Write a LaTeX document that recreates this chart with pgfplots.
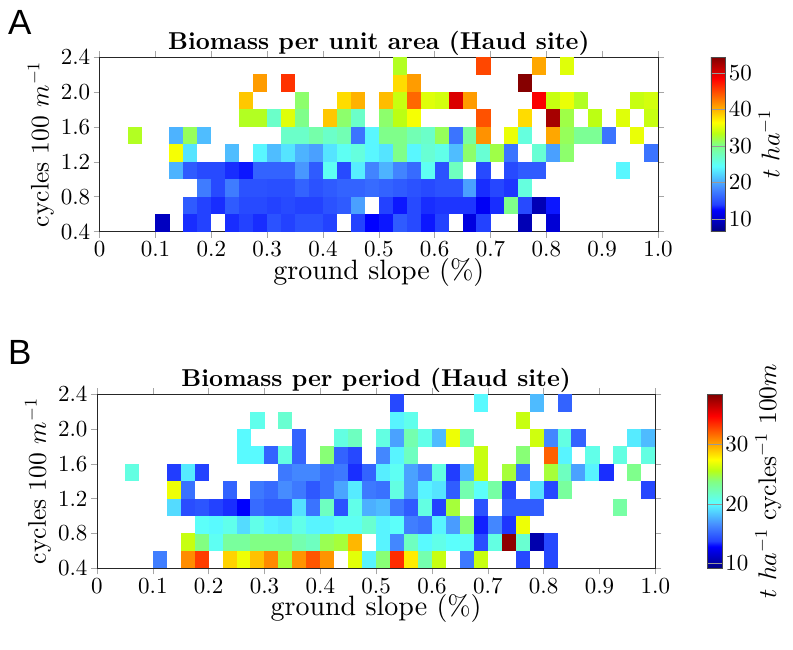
\documentclass[border=0pt]{standalone}
\usepackage{fontspec}
\setmainfont{lmroman10-regular}[Extension=.otf,BoldFont=lmroman10-bold,ItalicFont=lmroman10-italic]
\usepackage{pgfplots}
\usepackage{pgfplotstable}
\pgfplotsset{compat=1.18}
\newfontfamily\hv{Liberation Sans}
\DeclareFontShape{OT1}{cmr}{m}{n}{<->cmr10}{}
\DeclareFontShape{OML}{cmm}{m}{it}{<->cmmi10}{}
\DeclareFontShape{OMS}{cmsy}{m}{n}{<->cmsy10}{}
\pgfdeclareplotmark{cell}{\pgfpathrectangle{\pgfpoint{-7.05pt}{-8.8pt}}{\pgfpoint{14.1pt}{17.6pt}}\pgfusepathqfill}
\pgfplotsset{
 colormap={refjet}{rgb255(0pt)=(0,0,128); rgb255(4pt)=(0,0,255); rgb255(5pt)=(35,65,255); rgb255(8pt)=(70,140,255); rgb255(12pt)=(90,255,255); rgb255(16pt)=(130,255,130); rgb255(18pt)=(185,255,20); rgb255(20pt)=(255,255,0); rgb255(28pt)=(255,0,0); rgb255(32pt)=(128,0,0)},
 cellaxis/.style={
  scale only axis, width=558.3pt,
  xmin=0, xmax=1, ymin=0.4, ymax=2.4,
  xtick={0,0.1,...,1.0}, ytick={0.4,0.8,...,2.4},
  xticklabels={0,0.1,0.2,0.3,0.4,0.5,0.6,0.7,0.8,0.9,1.0},
  yticklabel style={/pgf/number format/fixed,/pgf/number format/precision=1,/pgf/number format/fixed zerofill},
  tick align=outside, tick pos=both, major tick length=6pt,
  every tick/.style={gray!70,line width=0.6pt},
  axis line style={black!85,line width=0.9pt},
  ticklabel style={font=\fontsize{23}{26}\selectfont},
  xlabel style={font=\fontsize{28}{30}\selectfont,yshift=6pt},
  ylabel style={font=\fontsize{25.5}{30}\selectfont},
  title style={font=\fontsize{24.4}{26}\selectfont\bfseries, yshift=-8pt},
  xlabel={ground slope (\%)}, ylabel={cycles 100 $m^{-1}$},
  colormap name=refjet, colorbar,
  axis on top=false,
 },
 cbar/.style={
  at={(parent axis.north east)}, anchor=north west, width=14.4pt,
  yticklabel pos=right, tick align=inside, major tick length=14.4pt,
  every tick/.style={black!40,line width=0.4pt},
  axis line style={black!70,line width=0.6pt},
  ticklabel style={font=\fontsize{23}{26}\selectfont},
  ylabel style={font=\fontsize{25.5}{30}\selectfont},
 },
}
\pgfplotstableread{
k r v
4 0 9.5
6 0 13.5
7 0 14
9 0 13.5
10 0 14
11 0 13.5
12 0 15
13 0 14
14 0 15
15 0 15
16 0 14
18 0 14
19 0 12.5
20 0 13
21 0 15.5
22 0 14.5
23 0 13
24 0 14
26 0 11
27 0 14
30 0 9
32 0 10.5
6 1 15.5
7 1 14
8 1 13.5
9 1 15.5
10 1 14.5
11 1 14.5
12 1 14
13 1 14.5
14 1 14
15 1 14
16 1 15
17 1 15.5
18 1 19.5
20 1 14
21 1 13
22 1 14.5
23 1 13.5
24 1 13.7
25 1 13.7
26 1 13.7
27 1 12
28 1 13.5
29 1 30
30 1 14.5
31 1 9
32 1 13
7 2 17.5
8 2 14.5
9 2 17.5
10 2 15
11 2 15
12 2 14.8
13 2 14.8
14 2 16
15 2 15
16 2 15.5
17 2 16
18 2 16
19 2 16.5
20 2 16
21 2 15.5
22 2 15
23 2 14.5
24 2 15
25 2 15
26 2 19.5
27 2 13.5
28 2 14.3
29 2 13.7
30 2 26
5 3 20.5
6 3 15.5
7 3 14.5
8 3 14.5
9 3 13.5
10 3 13
11 3 16
12 3 16
13 3 16
14 3 19
15 3 15.5
16 3 25
17 3 14.5
18 3 23.5
19 3 18
20 3 20.5
21 3 18
22 3 16.5
23 3 25
24 3 15
25 3 27.5
27 3 14.5
29 3 14.5
30 3 15.5
31 3 15.5
37 3 24
5 4 36
6 4 23
9 4 21
11 4 24
12 4 21
13 4 23
14 4 20.5
15 4 19.5
16 4 23
17 4 25
18 4 26
19 4 24
20 4 23
21 4 30
22 4 24
23 4 26.5
24 4 25.5
25 4 21
26 4 31
27 4 26.5
28 4 32
29 4 17
31 4 26.5
32 4 19.5
33 4 31
39 4 17
2 5 33
5 5 20.5
6 5 31.5
7 5 21
13 5 27
14 5 27
15 5 28.5
16 5 27
17 5 28
18 5 17
19 5 24
20 5 30
21 5 30
22 5 28
23 5 27
24 5 31.5
25 5 17
26 5 29
27 5 41.5
29 5 35.5
30 5 26
32 5 40.5
33 5 31.5
34 5 29.5
35 5 29.5
36 5 17
38 5 35.5
10 6 33
11 6 33
12 6 27
13 6 35
14 6 30
16 6 39
17 6 31
18 6 27
20 6 31
21 6 33.5
22 6 36
27 6 44.5
30 6 38
32 6 52.5
33 6 32
35 6 33.5
37 6 35
39 6 34
10 7 39
14 7 31
17 7 38
18 7 40
20 7 39.5
21 7 34
22 7 43.5
23 7 35
24 7 34.5
25 7 50
26 7 41
31 7 48.5
32 7 34
33 7 35.5
34 7 33
38 7 34
39 7 34.5
11 8 41
13 8 46
21 8 38
22 8 41
30 8 54
21 9 33
27 9 45
31 9 40.5
33 9 35
}\tableA
\pgfplotstableread{
k r v
4 0 16
6 0 30.7
7 0 33
9 0 28.7
10 0 27
11 0 29.2
12 0 30.8
13 0 25
14 0 30.5
15 0 32.3
16 0 30.5
18 0 26.7
19 0 19.8
20 0 24
21 0 33.5
22 0 28
23 0 22.5
24 0 26
26 0 15.8
27 0 26
30 0 14
32 0 14
6 1 26
7 1 23.8
8 1 20.5
9 1 23
10 1 23
11 1 23.7
12 1 23.7
13 1 23.7
14 1 22.5
15 1 22
16 1 24.6
17 1 25
18 1 29.5
20 1 19.8
21 1 16.3
22 1 22
23 1 20
24 1 20.8
25 1 20.2
26 1 20.5
27 1 14.2
28 1 21
29 1 38
30 1 21.5
31 1 10.5
32 1 14
7 2 20.3
8 2 20
9 2 20.7
10 2 19
11 2 20.8
12 2 19.8
13 2 19.5
14 2 20.8
15 2 19.8
16 2 19.8
17 2 20.5
18 2 20.5
19 2 21.5
20 2 19.8
21 2 20.3
22 2 16
23 2 15.6
24 2 19.8
25 2 17
26 2 24
27 2 13.3
28 2 16.3
29 2 13.6
30 2 27
5 3 19
6 3 14.2
7 3 14.5
8 3 13.8
9 3 13.5
10 3 12.8
11 3 15.3
12 3 14.8
13 3 14.8
14 3 19.2
15 3 15.6
16 3 22
17 3 14.4
18 3 20.8
19 3 17.6
20 3 18
21 3 15.8
22 3 14.7
23 3 21
24 3 13.8
25 3 25
27 3 14.4
29 3 14.8
30 3 14.8
31 3 14.8
37 3 22.8
5 4 27
6 4 15.5
9 4 15
11 4 15.8
12 4 15.3
13 4 16.5
14 4 15.8
15 4 14.6
16 4 15.5
17 4 17.3
18 4 19.5
19 4 15.8
20 4 15.5
21 4 21
22 4 17.2
23 4 19.8
24 4 19.3
25 4 14.8
26 4 22.5
27 4 20.3
28 4 22.8
29 4 14
31 4 19.2
32 4 14
33 4 23
39 4 14
2 5 21
5 5 13.7
6 5 19.5
7 5 13.8
13 5 15.8
14 5 16.3
15 5 16.3
16 5 15.5
17 5 15.8
18 5 13.5
19 5 15
20 5 19.6
21 5 20.5
22 5 17.2
23 5 16
24 5 21
25 5 13.7
26 5 17.8
27 5 26
29 5 25
30 5 15.5
32 5 25
33 5 22
34 5 17.2
35 5 19.8
36 5 13.5
38 5 23.5
10 6 20
11 6 20
12 6 15
13 6 21
14 6 15
16 6 24
17 6 15
18 6 14
20 6 16.3
21 6 19.8
22 6 22
27 6 26
30 6 24
32 6 32
33 6 19.8
35 6 20.8
37 6 21
39 6 21
10 7 20
14 7 15
17 7 21
18 7 22
20 7 21
21 7 17.2
22 7 22.5
23 7 20.8
24 7 18
25 7 27
26 7 22
31 7 26.2
32 7 16.3
33 7 21
34 7 15
38 7 19.5
39 7 18
11 8 20.7
13 8 21.5
21 8 19.8
22 8 20.7
30 8 26
21 9 14
27 9 20
31 9 18
33 9 15
}\tableB
\begin{document}
\begin{tikzpicture}[x=1pt,y=1pt]
\path[use as bounding box] (0,0) rectangle (793,650);
\node[anchor=base west,inner sep=0pt,font=\fontsize{35}{35}\selectfont\hv] at (8,615) {A};
\node[anchor=base west,inner sep=0pt,font=\fontsize{35}{35}\selectfont\hv] at (8,285) {B};
\begin{axis}[at={(99.7pt,418.3pt)},anchor=south west,cellaxis,height=174.7pt,
  title={Biomass per unit area (Haud site)},
  point meta min=6.5, point meta max=54.3,
  colorbar style={cbar,xshift=44.3pt,ytick={10,20,30,40,50},ylabel={$t\ ha^{-1}$}}]
\addplot[scatter,only marks,mark=cell,scatter src=explicit,
  scatter/use mapped color={draw=none,fill=mapped color}]
  table[x expr=\thisrow{k}*0.025+0.0125,y expr=\thisrow{r}*0.2+0.5,meta=v]{\tableA};
\end{axis}
\begin{axis}[at={(97pt,81.7pt)},anchor=south west,cellaxis,height=174pt,
  title={Biomass per period (Haud site)},
  point meta min=9.2, point meta max=38.4,
  colorbar style={cbar,xshift=43.7pt,ytick={10,20,30},ylabel={$t\ ha^{-1}$ cycles$^{-1}$ 100$m$}}]
\addplot[scatter,only marks,mark=cell,scatter src=explicit,
  scatter/use mapped color={draw=none,fill=mapped color}]
  table[x expr=\thisrow{k}*0.025+0.0125,y expr=\thisrow{r}*0.2+0.5,meta=v]{\tableB};
\end{axis}
\end{tikzpicture}
\end{document}
